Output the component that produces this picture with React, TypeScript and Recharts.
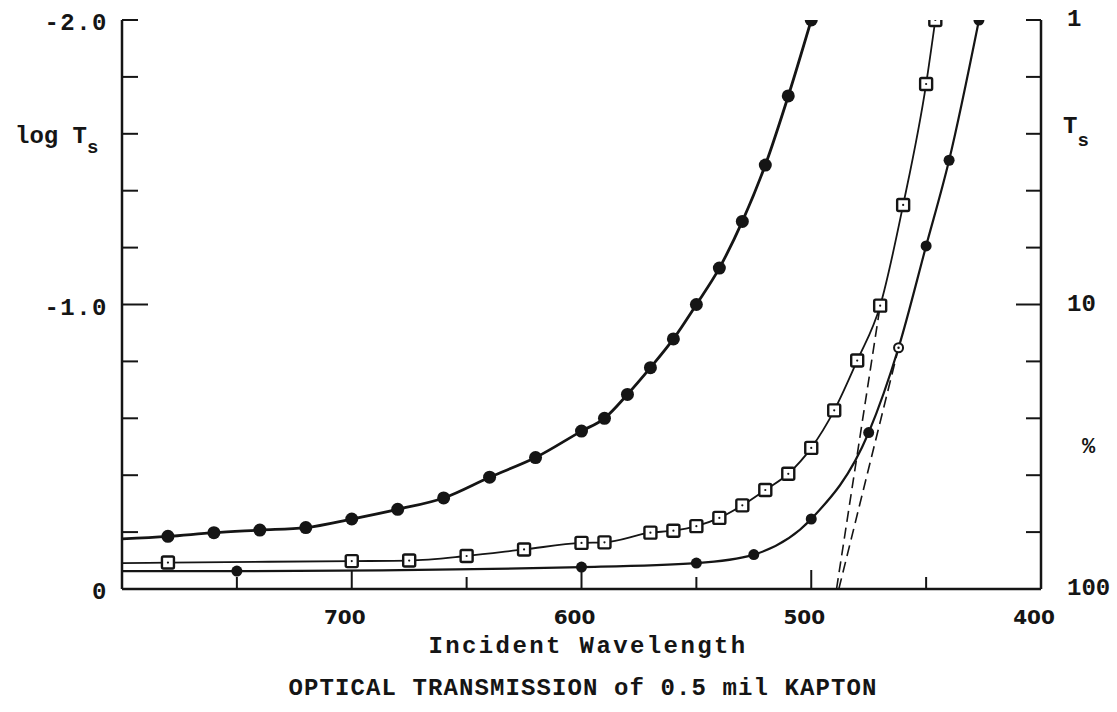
import { ComposedChart, Line, XAxis, YAxis } from "recharts";

const INK = "#151515";
const MONO = "'Liberation Mono', 'DejaVu Sans Mono', monospace";
const SANS = "'DejaVu Sans', sans-serif";

// x axis: incident wavelength, drawn from 800 (left) down to 400 (right)
const wlTicks = [400, 450, 500, 550, 600, 650, 700, 750];
const wlLabels = [400, 500, 600, 700];
// y axis: log Ts, -2.0 at the top, 0 at the bottom
const logTicks = [-2, -1.8, -1.6, -1.4, -1.2, -1, -0.8, -0.6, -0.4, -0.2, 0];
const leftLabels: Record<string, string> = { "-2": "-2.0", "-1": "-1.0", "0": "0" };
const rightLabels: Record<string, string> = { "-2": "1", "-1": "10", "0": "100" };

// upper curve, filled circles (value where the curve meets the left axis first)
const aEdge = -0.176;
const aWl = [780, 760, 740, 720, 700, 680, 660, 640, 620, 600, 590, 580, 570, 560, 550, 540, 530, 520, 510, 500];
const aLog = [-0.185, -0.198, -0.207, -0.216, -0.246, -0.28, -0.32, -0.393, -0.462, -0.555, -0.6, -0.684, -0.778, -0.879, -1.0, -1.128, -1.292, -1.49, -1.733, -2.0];

// middle curve, open squares
const bEdge = -0.091;
const bWl = [780, 700, 675, 650, 625, 600, 590, 570, 560, 550, 540, 530, 520, 510, 500, 490, 480, 470, 460, 450, 446];
const bLog = [-0.093, -0.098, -0.1, -0.116, -0.139, -0.162, -0.164, -0.198, -0.205, -0.221, -0.25, -0.294, -0.348, -0.405, -0.496, -0.628, -0.803, -0.996, -1.35, -1.775, -2.0];

// lower curve, small circles
const cEdge = -0.063;
const cWl = [750, 600, 550, 525, 500, 475, 462, 450, 440, 427];
const cLog = [-0.063, -0.077, -0.091, -0.121, -0.246, -0.55, -0.848, -1.206, -1.507, -2.0];
const cOpen = [462];

// dashed tangents extrapolated down to log Ts = 0
const tanSqWl = [489, 470];
const tanSqLog = [0, -0.996];
const tanDotWl = [488, 462];
const tanDotLog = [0, -0.848];

const pts = (wl: number[], lg: number[]) => wl.map((w, i) => ({ wl: w, v: lg[i] }));

const dataA = [{ wl: 800, v: aEdge, edge: true }, ...pts(aWl, aLog)];
const dataB = [{ wl: 800, v: bEdge, edge: true }, ...pts(bWl, bLog)];
const dataC = [{ wl: 800, v: cEdge, edge: true }, ...pts(cWl, cLog)];
const dataTanSq = pts(tanSqWl, tanSqLog);
const dataTanDot = pts(tanDotWl, tanDotLog);

const isMajorLog = (v: number) => Math.abs(v - Math.round(v)) < 1e-6;

const BottomTick = (p: any) => {
  const v = p.payload.value;
  const major = v % 100 === 0;
  return (
    <g>
      <line x1={p.x} x2={p.x} y1={p.y} y2={p.y - (major ? 19 : 12)} stroke={INK} strokeWidth={2} />
      {wlLabels.includes(v) && (
        <text x={p.x - 7} y={p.y + 35} textAnchor="middle" fontFamily={SANS} fontWeight="bold" fontSize={20} fill={INK}>
          {v}
        </text>
      )}
    </g>
  );
};

const TopTick = (p: any) => {
  const v = p.payload.value;
  const major = v % 100 === 0;
  return <line x1={p.x} x2={p.x} y1={p.y} y2={p.y + (major ? 22 : 11)} stroke={INK} strokeWidth={2} />;
};

const LeftTick = (p: any) => {
  const v = p.payload.value;
  const label = leftLabels[String(Math.round(v * 10) / 10)];
  return (
    <g>
      <line x1={p.x} x2={p.x + (Math.abs(v + 1) < 1e-6 ? 26 : 16)} y1={p.y} y2={p.y} stroke={INK} strokeWidth={2} />
      {isMajorLog(v) && label && (
        <text x={p.x - 14} y={p.y + 10} textAnchor="end" fontFamily={MONO} fontWeight="bold" fontSize={24} letterSpacing={1.5} fill={INK}>
          {label}
        </text>
      )}
    </g>
  );
};

const RightTick = (p: any) => {
  const v = p.payload.value;
  const label = rightLabels[String(Math.round(v * 10) / 10)];
  return (
    <g>
      <line x1={p.x} x2={p.x - (Math.abs(v + 1) < 1e-6 ? 25 : 15)} y1={p.y} y2={p.y} stroke={INK} strokeWidth={2} />
      {isMajorLog(v) && label && (
        <text x={p.x + 26} y={p.y + 6} textAnchor="start" fontFamily={MONO} fontWeight="bold" fontSize={24} fill={INK}>
          {label}
        </text>
      )}
    </g>
  );
};

const bigDot = (p: any) =>
  p.payload.edge ? <g key={p.key} /> : <circle key={p.key} cx={p.cx} cy={p.cy} r={6.5} fill={INK} />;

const smallDot = (p: any) => {
  if (p.payload.edge) return <g key={p.key} />;
  if (cOpen.includes(p.payload.wl))
    return (
      <g key={p.key}>
        <circle cx={p.cx} cy={p.cy} r={4.5} fill="#fff" stroke={INK} strokeWidth={2} />
        <circle cx={p.cx} cy={p.cy} r={1.2} fill={INK} />
      </g>
    );
  return <circle key={p.key} cx={p.cx} cy={p.cy} r={5.5} fill={INK} />;
};

const squareDot = (p: any) =>
  p.payload.edge ? (
    <g key={p.key} />
  ) : (
    <g key={p.key}>
      <rect x={p.cx - 6} y={p.cy - 6} width={12} height={12} rx={1.5} fill="#fff" stroke={INK} strokeWidth={2.4} />
      <circle cx={p.cx} cy={p.cy} r={1.1} fill={INK} />
    </g>
  );

export default function App() {
  return (
    <div style={{ position: "absolute", left: 0, top: 0, width: 1117, height: 712, background: "#fff" }}>
      <ComposedChart width={1117} height={712} margin={{ top: 20, right: 0, bottom: 0, left: 0 }}>
        <XAxis
          xAxisId="bottom"
          dataKey="wl"
          type="number"
          domain={[400, 800]}
          reversed
          allowDataOverflow
          ticks={wlTicks}
          interval={0}
          height={123}
          tickSize={0}
          tickMargin={0}
          tickLine={false}
          axisLine={{ stroke: INK, strokeWidth: 2.5 }}
          tick={(p: any) => <BottomTick {...p} />}
        />
        <XAxis
          xAxisId="top"
          orientation="top"
          dataKey="wl"
          type="number"
          domain={[400, 800]}
          reversed
          allowDataOverflow
          ticks={wlTicks}
          interval={0}
          height={0}
          tickSize={0}
          tickMargin={0}
          tickLine={false}
          axisLine={{ stroke: INK, strokeWidth: 2.5 }}
          tick={(p: any) => <TopTick {...p} />}
        />
        <YAxis
          yAxisId="left"
          type="number"
          domain={[-2, 0]}
          reversed
          allowDataOverflow
          ticks={logTicks}
          interval={0}
          width={122}
          tickSize={0}
          tickMargin={0}
          tickLine={false}
          axisLine={{ stroke: INK, strokeWidth: 2.5 }}
          tick={(p: any) => <LeftTick {...p} />}
        />
        <YAxis
          yAxisId="right"
          orientation="right"
          type="number"
          domain={[-2, 0]}
          reversed
          allowDataOverflow
          ticks={logTicks}
          interval={0}
          width={76}
          tickSize={0}
          tickMargin={0}
          tickLine={false}
          axisLine={{ stroke: INK, strokeWidth: 2.5 }}
          tick={(p: any) => <RightTick {...p} />}
        />
        <Line xAxisId="bottom" yAxisId="left" data={dataTanSq} dataKey="v" type="linear" stroke={INK} strokeWidth={1.6} strokeDasharray="11 6" dot={false} isAnimationActive={false} />
        <Line xAxisId="bottom" yAxisId="left" data={dataTanDot} dataKey="v" type="linear" stroke={INK} strokeWidth={1.6} strokeDasharray="11 6" dot={false} isAnimationActive={false} />
        <Line xAxisId="bottom" yAxisId="left" data={dataC} dataKey="v" type="monotone" stroke={INK} strokeWidth={2.2} dot={smallDot} isAnimationActive={false} />
        <Line xAxisId="bottom" yAxisId="left" data={dataB} dataKey="v" type="monotone" stroke={INK} strokeWidth={1.8} dot={squareDot} isAnimationActive={false} />
        <Line xAxisId="bottom" yAxisId="left" data={dataA} dataKey="v" type="monotone" stroke={INK} strokeWidth={2.8} dot={bigDot} isAnimationActive={false} />
      </ComposedChart>
      <svg width={1117} height={712} style={{ position: "absolute", left: 0, top: 0, pointerEvents: "none" }}>
        <text x={15} y={143} fontFamily={MONO} fontWeight="bold" fontSize={24} fill={INK}>
          log T<tspan dy={10} fontSize={19}>s</tspan>
        </text>
        <text x={1063} y={133} fontFamily={MONO} fontWeight="bold" fontSize={24} fill={INK}>
          T<tspan dy={13} fontSize={19}>s</tspan>
        </text>
        <text x={1082} y={453} fontFamily={MONO} fontWeight="bold" fontSize={22} fill={INK}>
          %
        </text>
        <text x={588} y={653} textAnchor="middle" fontFamily={MONO} fontWeight="bold" fontSize={24} letterSpacing={2.4} fill={INK}>
          Incident Wavelength
        </text>
        <text x={583} y={695} textAnchor="middle" fontFamily={MONO} fontWeight="bold" fontSize={24} letterSpacing={1.1} fill={INK}>
          OPTICAL TRANSMISSION of 0.5 mil KAPTON
        </text>
      </svg>
    </div>
  );
}
